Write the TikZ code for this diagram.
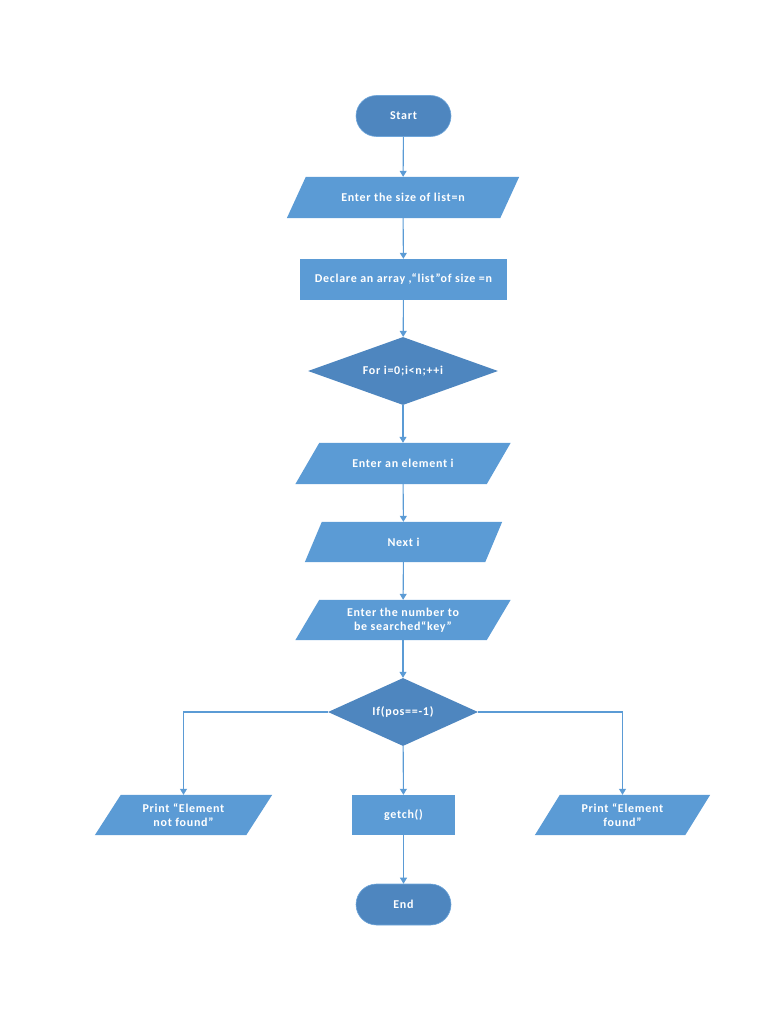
\documentclass[tikz,border=0pt]{standalone}
\usepackage{fontspec}
\setmainfont{Carlito}
\usetikzlibrary{shapes.geometric,arrows.meta,backgrounds}
\definecolor{boxblue}{HTML}{5B9BD5}
\definecolor{darkblue}{HTML}{4E86BF}
\definecolor{edgeblue}{HTML}{6FA6DA}
\newfontfamily\boxfont[LetterSpace=6]{Carlito}
\newcommand\parafill[2]{%
  \fill[boxblue] ([xshift=#2/2]#1.north west) -- ([xshift=#2/2]#1.north east)
    -- ([xshift=-#2/2]#1.south east) -- ([xshift=-#2/2]#1.south west) -- cycle;}
\tikzset{
  base/.style={text=white,font=\boxfont\fontsize{12}{14.5}\selectfont\bfseries,inner sep=0pt,align=center},
  term/.style={base,rectangle,rounded corners=20.5pt,fill=darkblue,draw=edgeblue,line width=0.6pt,minimum width=95pt,minimum height=41pt},
  proc/.style={base,rectangle,fill=boxblue,minimum height=41pt},
  io/.style={base,rectangle,minimum height=41pt},
  dec/.style={base,diamond,fill=darkblue,aspect=2.6},
  conn/.style={draw=boxblue,line width=1.1pt,-{Triangle[width=7pt,length=6pt]}}
}
\begin{document}
\begin{tikzpicture}[x=1pt,y=-1pt]
\useasboundingbox (0,0) rectangle (768,1024);
\node[term] (start) at (403.5,116) {Start};
\node[io,minimum width=213pt] (size) at (403,197.5) {Enter the size of list=n};
\node[proc,minimum width=207pt] (decl) at (403.5,279.5) {Declare an array ,“list”of size =n};
\node[dec,minimum width=190pt,minimum height=68pt] (for) at (403,371) {For i=0;i<n;++i};
\node[io,minimum width=191pt] (elem) at (403,463.5) {Enter an element i};
\node[io,minimum width=180pt,minimum height=40pt] (next) at (403.5,542) {Next i};
\node[io,minimum width=191pt,minimum height=40pt] (key) at (403,620) {Enter the number to\\be searched“key”};
\node[dec,minimum width=150pt,minimum height=68pt,aspect=2.2] (if) at (403,712) {If(pos==-1)};
\node[io,minimum width=151pt,minimum height=40pt] (nf) at (183.5,815) {Print “Element\\not found”};
\node[proc,minimum width=103pt,minimum height=40pt] (getch) at (403.5,815) {getch()};
\node[io,minimum width=150pt,minimum height=40pt] (fnd) at (622.5,815) {Print “Element\\found”};
\node[term] (end) at (403.5,904.5) {End};
\begin{scope}[on background layer]
  \parafill{size}{19pt}
  \parafill{elem}{24pt}
  \parafill{next}{17pt}
  \parafill{key}{24pt}
  \parafill{nf}{26pt}
  \parafill{fnd}{25pt}
\end{scope}
\draw[conn] (start) -- (size);
\draw[conn] (size) -- (decl);
\draw[conn] (decl) -- (for);
\draw[conn] (for) -- (elem);
\draw[conn] (elem) -- (next);
\draw[conn] (next) -- (key);
\draw[conn] (key) -- (if);
\draw[conn] (if.west) -| (nf.north);
\draw[conn] (if.east) -| (fnd.north);
\draw[conn] (if) -- (getch);
\draw[conn] (getch) -- (end);
\end{tikzpicture}
\end{document}
